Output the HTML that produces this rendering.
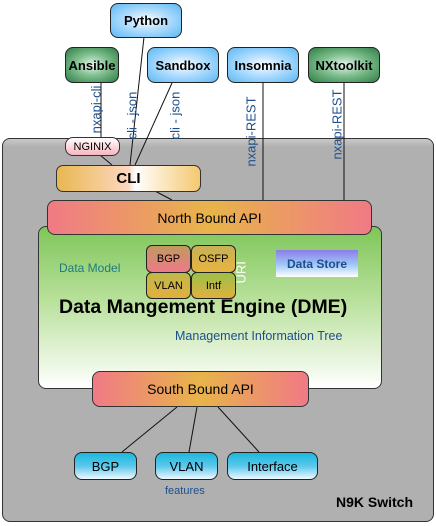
<!DOCTYPE html>
<html><head><style>
body{margin:0;width:436px;height:526px;background:#fff;position:relative;overflow:hidden;font-family:"Liberation Sans",Arial,sans-serif}
.a{position:absolute;box-sizing:border-box;display:flex;align-items:center;justify-content:center}
.b{border:1px solid #222;border-radius:8px}
.blue{background:radial-gradient(ellipse at center,#fff 0%,#bfe3ff 35%,#5cb8f5 100%);font-weight:bold;font-size:13px}
.green{background:radial-gradient(ellipse at center,#e8f4ea 0%,#7fbf8f 45%,#2e7d45 100%);font-weight:bold;font-size:13px}
.feat{background:linear-gradient(#1ab8dc,#5ac8ec 50%,#eef8ff);font-size:13px}
.cell{font-size:11px;border:1px solid #222;border-radius:6px}
.rot{position:absolute;transform:rotate(-90deg);transform-origin:center;color:#1d4f8c;font-size:13px;white-space:nowrap}
</style></head><body>
<div class="a" style="left:2px;top:138px;width:432px;height:384px;background:linear-gradient(#c8c8c8,#b0b0b0 8px);border:1px solid #333;border-radius:8px"></div>
<svg width="436" height="526" style="position:absolute;left:0;top:0">
<g stroke="#111" stroke-width="1">
<line x1="144" y1="37" x2="130" y2="165"/><line x1="172" y1="83" x2="135" y2="165"/>
<line x1="101" y1="83" x2="101" y2="137"/><line x1="100" y1="155" x2="112" y2="165"/>
<line x1="263" y1="83" x2="263" y2="200"/><line x1="344" y1="83" x2="344" y2="200"/>
<line x1="155" y1="191" x2="172" y2="200"/>
<line x1="177" y1="407" x2="122" y2="452"/><line x1="197" y1="407" x2="189" y2="452"/><line x1="218" y1="407" x2="259" y2="452"/>
</g></svg>
<div class="a b blue" style="left:110px;top:3px;width:72px;height:35px">Python</div>
<div class="a b green" style="left:65px;top:47px;width:54px;height:36px">Ansible</div>
<div class="a b blue" style="left:147px;top:47px;width:72px;height:36px">Sandbox</div>
<div class="a b blue" style="left:227px;top:47px;width:72px;height:36px">Insomnia</div>
<div class="a b green" style="left:308px;top:47px;width:72px;height:36px">NXtoolkit</div>
<div class="rot" style="left:66px;top:102px;width:60px;text-align:center">nxapi-cli</div>
<div class="rot" style="left:102px;top:108px;width:60px;text-align:center">cli - json</div>
<div class="rot" style="left:145px;top:108px;width:60px;text-align:center">cli - json</div>
<div class="rot" style="left:213px;top:124px;width:76px;text-align:center">nxapi-REST</div>
<div class="rot" style="left:299px;top:117px;width:76px;text-align:center">nxapi-REST</div>
<div class="a" style="left:65px;top:137px;width:55px;height:19px;border:1px solid #333;border-radius:8px;background:linear-gradient(#fff,#f7b5be);font-size:11px">NGINIX</div>
<div class="a" style="left:56px;top:165px;width:145px;height:27px;border:1px solid #333;border-radius:7px;background:linear-gradient(90deg,#e8b850,#fdd7c0 50%,#fff 55%,#f5c870 100%);font-weight:bold;font-size:15px">CLI</div>
<div class="a" style="left:38px;top:226px;width:344px;height:163px;border:1px solid #333;border-radius:8px;background:linear-gradient(#7fc65a,#b8e09a 45%,#fff)"></div>
<div class="a" style="left:47px;top:200px;width:325px;height:35px;border:1px solid #333;border-radius:8px;background:linear-gradient(90deg,#f07a85,#e8b44a 50%,#f07a85);font-size:14px">North Bound API</div>
<div style="position:absolute;left:59px;top:261px;color:#1f7a80;font-size:12px">Data Model</div>
<div class="a cell" style="left:146px;top:245px;width:45px;height:28px;background:linear-gradient(#c09a60,#ee7a88)">BGP</div>
<div class="a cell" style="left:191px;top:245px;width:45px;height:28px;background:linear-gradient(#c8b058,#e8b440)">OSFP</div>
<div class="a cell" style="left:146px;top:272px;width:45px;height:27px;background:linear-gradient(#c0b848,#e0b040)">VLAN</div>
<div class="a cell" style="left:191px;top:272px;width:45px;height:27px;background:linear-gradient(#9cc048,#e0b040)">Intf</div>
<div class="rot" style="left:230px;top:265px;width:22px;color:#fff;font-size:13px;text-align:center">URI</div>
<div class="a" style="left:276px;top:250px;width:82px;height:27px;background:linear-gradient(#8a7ee8,#a0c8f8 55%,#fff);color:#1d4f8c;font-weight:bold;font-size:12px">Data Store</div>
<div style="position:absolute;left:59px;top:296px;font-weight:bold;font-size:19.5px;color:#000">Data Mangement Engine (DME)</div>
<div style="position:absolute;left:175px;top:329px;color:#1d4f8c;font-size:12.5px">Management Information Tree</div>
<div class="a" style="left:92px;top:371px;width:217px;height:36px;border:1px solid #333;border-radius:8px;background:linear-gradient(90deg,#f07a85,#e8b44a 50%,#f07a85);font-size:14px">South Bound API</div>
<div class="a b feat" style="left:74px;top:452px;width:63px;height:28px">BGP</div>
<div class="a b feat" style="left:155px;top:452px;width:63px;height:28px">VLAN</div>
<div class="a b feat" style="left:227px;top:452px;width:91px;height:28px">Interface</div>
<div style="position:absolute;left:165px;top:485px;color:#1d4f8c;font-size:11px">features</div>
<div style="position:absolute;left:336px;top:494px;font-weight:bold;font-size:14px">N9K Switch</div>
</body></html>
